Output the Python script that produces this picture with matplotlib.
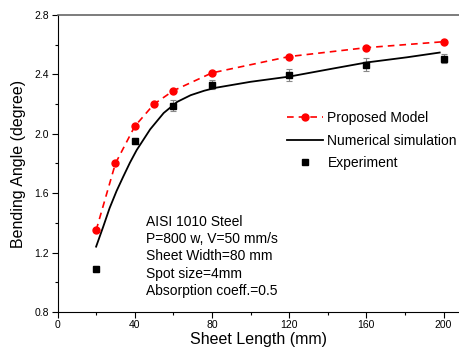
import matplotlib.pyplot as plt
from matplotlib.ticker import MultipleLocator
from matplotlib.lines import Line2D

plt.rcParams['font.family'] = ['Liberation Sans', 'DejaVu Sans']

# Proposed model (red dashed with circles)
model_x = [20, 30, 40, 50, 60, 80, 120, 160, 200]
model_y = [1.35, 1.80, 2.05, 2.20, 2.29, 2.41, 2.52, 2.58, 2.62]

# Numerical simulation (black curve)
sim_x = [20, 23.7, 27, 30.6, 34, 37.5, 41, 48, 55, 62, 69, 76, 82, 100, 120, 143, 160, 181, 198]
sim_y = [1.24, 1.375, 1.50, 1.615, 1.71, 1.805, 1.89, 2.03, 2.14, 2.215, 2.26, 2.29, 2.31, 2.35, 2.385, 2.44, 2.48, 2.515, 2.547]

# Experiment (black squares with error bars)
exp_x = [20, 40, 60, 80, 120, 160, 200]
exp_y = [1.09, 1.95, 2.19, 2.33, 2.395, 2.465, 2.505]
exp_err = [0.02, 0.02, 0.035, 0.03, 0.04, 0.045, 0.03]

info = ("AISI 1010 Steel\nP=800 w, V=50 mm/s\nSheet Width=80 mm\n"
        "Spot size=4mm\nAbsorption coeff.=0.5")

fig = plt.figure(figsize=(4.59, 3.5), dpi=100)
ax = fig.add_axes([0.1253, 0.1086, 0.8747, 0.8486])

ax.errorbar(exp_x, exp_y, yerr=exp_err, fmt='none', ecolor='#888888',
            elinewidth=0.8, capsize=2.5, capthick=0.8, zorder=2)
ax.plot(sim_x, sim_y, color='black', lw=1.3, zorder=3)
ax.plot(model_x, model_y, color='red', ls=(0, (4, 3)), lw=1.2,
        marker='o', markersize=5, zorder=4)
ax.plot(exp_x, exp_y, ls='none', marker='s', color='black',
        markersize=4.5, zorder=5)

ax.set_xlim(0, 208)
ax.set_ylim(0.8, 2.8)
ax.xaxis.set_major_locator(MultipleLocator(40))
ax.xaxis.set_minor_locator(MultipleLocator(20))
ax.yaxis.set_major_locator(MultipleLocator(0.4))
ax.yaxis.set_minor_locator(MultipleLocator(0.2))
ax.tick_params(which='major', direction='out', length=4, width=0.8, labelsize=7.5, pad=2)
ax.tick_params(which='minor', direction='out', length=2.5, width=0.8)

ax.spines['right'].set_visible(False)
ax.spines['top'].set_color('#666666')
ax.spines['top'].set_linewidth(1.2)

ax.set_xlabel('Sheet Length (mm)', fontsize=11.5, labelpad=1)
ax.set_ylabel('Bending Angle (degree)', fontsize=11.5, labelpad=6)

ax.text(45.7, 1.455, info, fontsize=10, va='top', ha='left', linespacing=1.3)

handles = [
    Line2D([], [], color='red', ls=(0, (4, 3)), lw=1.2, marker='o', markersize=5),
    Line2D([], [], color='black', lw=1.3),
    Line2D([], [], color='black', ls='none', marker='s', markersize=4.5),
]
labels = ['Proposed Model', 'Numerical simulation', 'Experiment']
ax.legend(handles, labels, loc='upper left', bbox_to_anchor=(0.572, 0.677),
          frameon=False, fontsize=10, handlelength=2.6, handletextpad=0.3,
          labelspacing=0.62, borderpad=0, borderaxespad=0)

fig.savefig('out.png', dpi=100)
